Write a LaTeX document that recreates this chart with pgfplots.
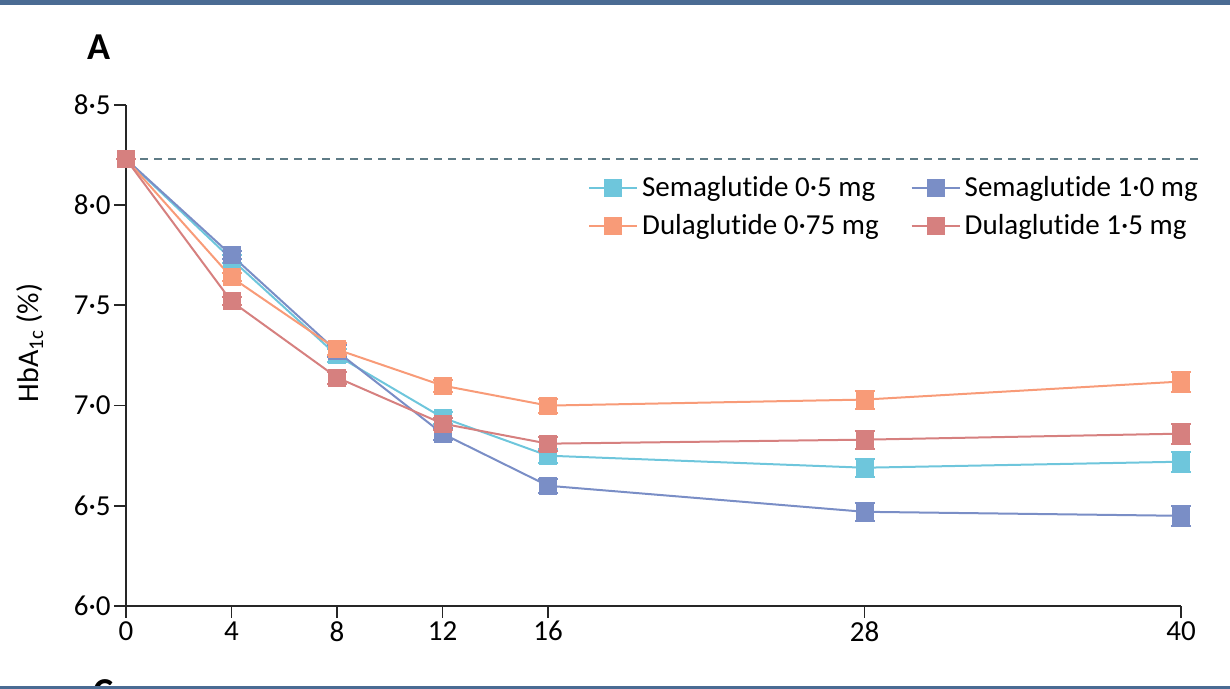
\documentclass[border=0pt]{standalone}
\usepackage{pgfplots}
\pgfplotsset{compat=1.18}
\usepackage{fontspec}
\setmainfont[Ligatures=CommonOff]{Carlito}
\definecolor{semaA}{HTML}{6EC6DC}
\definecolor{semaB}{HTML}{7A8EC6}
\definecolor{dulaA}{HTML}{F89B78}
\definecolor{dulaB}{HTML}{D6807F}
\definecolor{dashc}{HTML}{5E7B86}
\definecolor{strip}{HTML}{4A6B93}
\pgfplotsset{ser/.style={#1, line width=1pt, mark=square*, mark size=4pt,
     mark options={fill=#1, draw=#1, solid},
     error bars/y dir=both, error bars/y explicit,
     error bars/error bar style={line width=1pt, #1},
     error bars/error mark options={rotate=90, mark size=5pt, line width=1pt, #1}}}
\begin{document}
\begin{tikzpicture}[x=1pt,y=1pt]
\path[use as bounding box] (0,0) rectangle (615,344.5);
\fill[strip] (0,342) rectangle (615,344.5);
\fill[strip] (0,0) rectangle (615,1.5);
\begin{scope}
\clip (0,1.5) rectangle (615,10);
\node[font=\bfseries\fontsize{19}{21}\selectfont,anchor=north] at (52,8) {C};
\end{scope}
\node[font=\bfseries\fontsize{19}{21}\selectfont] at (49.5,321) {A};
\node[rotate=90,font=\fontsize{15}{17}\selectfont] at (15,173) {HbA\textsubscript{1c} (\%)};
\begin{axis}[
  at={(63pt,41.5pt)}, anchor=south west,
  scale only axis, width=527.5pt, height=250.5pt,
  xmin=0, xmax=40, ymin=6, ymax=8.5,
  axis lines*=left, clip=false,
  axis line style={line width=0.9pt, black!85},
  tick style={line width=0.9pt, black!85},
  tick align=outside, major tick length=6pt,
  xtick={0,4,8,12,16,28,40},
  ytick={6,6.5,7,7.5,8,8.5},
  yticklabels={6·0,6·5,7·0,7·5,8·0,8·5},
  ticklabel style={font=\fontsize{14.5}{17}\selectfont},
  yticklabel style={inner sep=1.5pt},
  xticklabel style={inner sep=1.5pt},
  /pgf/number format/assume math mode=true,
  legend style={draw=none, fill=none, at={(0.432,0.875)}, anchor=north west,
     font=\fontsize{14.5}{17}\selectfont, row sep=3.5pt,
     /tikz/every even column/.append style={column sep=14pt}},
  legend columns=2,
  legend cell align=left,
  legend image code/.code={\draw[mark repeat=2,mark phase=2] plot coordinates {(0pt,0pt)(12pt,0pt)(24pt,0pt)};},
]
\addplot[dashc, line width=0.8pt, dash pattern=on 4pt off 3pt, mark=none, forget plot] coordinates {(0,8.23) (40.72,8.23)};
\addplot[ser=semaA] coordinates {
 (0,8.23) +- (0,0)
 (4,7.73) +- (0,0.02)
 (8,7.25) +- (0,0.03)
 (12,6.94) +- (0,0.03)
 (16,6.75) +- (0,0.035)
 (28,6.69) +- (0,0.045)
 (40,6.72) +- (0,0.05)
};
\addlegendentry{Semaglutide 0·5 mg}
\addplot[ser=semaB] coordinates {
 (0,8.23) +- (0,0)
 (4,7.75) +- (0,0.02)
 (8,7.27) +- (0,0.03)
 (12,6.86) +- (0,0.03)
 (16,6.60) +- (0,0.035)
 (28,6.47) +- (0,0.045)
 (40,6.45) +- (0,0.05)
};
\addlegendentry{Semaglutide 1·0 mg}
\addplot[ser=dulaA] coordinates {
 (0,8.23) +- (0,0)
 (4,7.64) +- (0,0.02)
 (8,7.28) +- (0,0.03)
 (12,7.10) +- (0,0.03)
 (16,7.00) +- (0,0.035)
 (28,7.03) +- (0,0.045)
 (40,7.12) +- (0,0.05)
};
\addlegendentry{Dulaglutide 0·75 mg}
\addplot[ser=dulaB] coordinates {
 (0,8.23) +- (0,0)
 (4,7.52) +- (0,0.02)
 (8,7.14) +- (0,0.03)
 (12,6.91) +- (0,0.03)
 (16,6.81) +- (0,0.035)
 (28,6.83) +- (0,0.045)
 (40,6.86) +- (0,0.05)
};
\addlegendentry{Dulaglutide 1·5 mg}
\end{axis}
\end{tikzpicture}
\end{document}
